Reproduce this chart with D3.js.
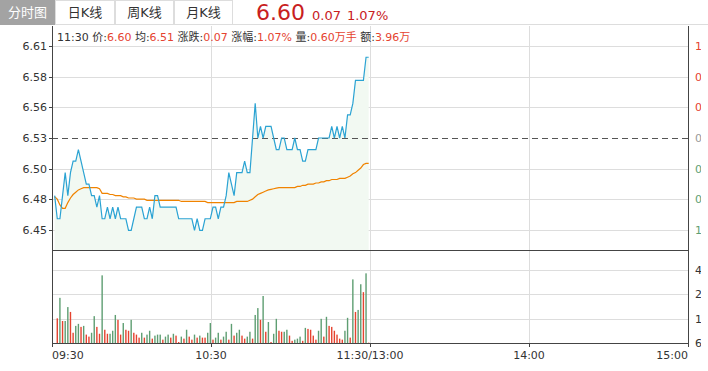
<!DOCTYPE html>
<html>
<head>
<meta charset="utf-8">
<script src="https://cdn.jsdelivr.net/npm/d3@7"></script>
<style>
body { margin: 0; background: #fff; }
svg text { font-family: "DejaVu Sans", "Noto Sans CJK SC", sans-serif; }
</style>
</head>
<body>
<div id="chart"></div>
<script>
// data
const prevClose = 6.53;
const tabs = ['分时图', '日K线', '周K线', '月K线'];
const timeLabels = ['09:30', '10:30', '11:30/13:00', '14:00', '15:00'];
const priceTicks = [6.61, 6.5833, 6.5567, 6.53, 6.5033, 6.4767, 6.45];
const priceTickLabels = ['6.61', '6.58', '6.56', '6.53', '6.50', '6.48', '6.45'];
const pctTickLabels = ['1.23%', '0.82%', '0.41%', '0.00%', '0.41%', '0.82%', '1.23%'];
const volTicks = [4368, 2912, 1456, 0];
const volTickLabels = ['4368', '2912', '1456', '6'];

// minute prices 09:31 .. 11:30
const prices = [
  6.48, 6.46, 6.46, 6.48, 6.50, 6.48, 6.50, 6.51, 6.51, 6.52,
  6.51, 6.50, 6.49, 6.49, 6.48, 6.48, 6.47, 6.48, 6.46, 6.46,
  6.47, 6.46, 6.47, 6.46, 6.47, 6.46, 6.46, 6.46, 6.45, 6.45,
  6.46, 6.47, 6.47, 6.47, 6.46, 6.46, 6.47, 6.46, 6.48, 6.48,
  6.47, 6.47, 6.47, 6.47, 6.47, 6.47, 6.47, 6.46, 6.46, 6.46,
  6.46, 6.46, 6.46, 6.45, 6.46, 6.45, 6.45, 6.46, 6.46, 6.46,
  6.47, 6.47, 6.46, 6.47, 6.47, 6.48, 6.50, 6.49, 6.48, 6.50,
  6.50, 6.50, 6.51, 6.50, 6.50, 6.53, 6.56, 6.53, 6.54, 6.53,
  6.54, 6.54, 6.54, 6.53, 6.52, 6.52, 6.53, 6.53, 6.52, 6.52,
  6.52, 6.53, 6.52, 6.52, 6.51, 6.51, 6.52, 6.52, 6.52, 6.52,
  6.53, 6.53, 6.53, 6.53, 6.53, 6.54, 6.53, 6.54, 6.53, 6.54,
  6.53, 6.55, 6.55, 6.56, 6.58, 6.58, 6.58, 6.58, 6.60, 6.60
];
const avgPrices = [
  6.479, 6.477, 6.472, 6.469, 6.469, 6.474, 6.478, 6.481, 6.483, 6.485,
  6.486, 6.487, 6.487, 6.487, 6.487, 6.487, 6.487, 6.486, 6.482, 6.482,
  6.482, 6.481, 6.481, 6.480, 6.480, 6.480, 6.479, 6.479, 6.478, 6.478,
  6.478, 6.477, 6.477, 6.477, 6.477, 6.476, 6.476, 6.476, 6.476, 6.476,
  6.476, 6.476, 6.476, 6.476, 6.476, 6.476, 6.476, 6.476, 6.475, 6.475,
  6.475, 6.475, 6.475, 6.475, 6.475, 6.475, 6.475, 6.475, 6.474, 6.474,
  6.474, 6.474, 6.474, 6.474, 6.474, 6.474, 6.474, 6.474, 6.474, 6.475,
  6.475, 6.475, 6.475, 6.475, 6.476, 6.477, 6.479, 6.481, 6.482, 6.483,
  6.484, 6.485, 6.4855, 6.486, 6.4865, 6.487, 6.487, 6.487, 6.487, 6.487,
  6.487, 6.487, 6.488, 6.488, 6.489, 6.489, 6.490, 6.490, 6.490, 6.491,
  6.491, 6.492, 6.492, 6.493, 6.493, 6.494, 6.494, 6.494, 6.495, 6.495,
  6.495, 6.496, 6.497, 6.499, 6.500, 6.502, 6.504, 6.507, 6.508, 6.508
];
// minute volumes 09:32 .. 11:30 (hands) and bar colour
const volumes = [
  1470, 2690, 1310, 1310, 2140, 1850, 610, 1020, 1140, 960,
  1020, 500, 380, 610, 1600, 960, 550, 4030, 790, 550,
  550, 730, 1670, 1380, 500, 1190, 790, 730, 1380, 610,
  500, 320, 610, 320, 500, 730, 260, 440, 500, 500,
  200, 380, 500, 320, 550, 440, 60, 380, 260, 790,
  380, 200, 500, 320, 440, 320, 320, 610, 1190, 200,
  320, 610, 200, 380, 670, 200, 1140, 440, 610, 790,
  440, 260, 380, 670, 260, 1670, 2080, 1380, 2800, 670,
  1250, 60, 550, 1440, 730, 670, 670, 790, 440, 130,
  200, 260, 380, 130, 900, 840, 790, 440, 200, 730,
  1440, 380, 1560, 1020, 960, 730, 500, 260, 200, 730,
  1500, 320, 3790, 1850, 1970, 3500, 3030, 4150, 20
];
const volUp = ('rgrggrrggrgrrggrrgrrgggrrgrrgrrrgrggrgggrggrgrrgrgrrgrgrrggrg' +
  'grggrgrggrrggrggrgrgrggrrggrrgggrgrrrrggrg' +
  'rrrrrrggrgrggrgr').split('').map(c => c === 'r');

const W = 708, H = 371;
const left = 52, right = 688;
const priceTop = 26, priceBottom = 250, volBottom = 343;

const svg = d3.select('#chart').append('svg')
  .attr('width', W)
  .attr('height', H);

// tab bar
const tabX = [0, 55, 115, 174, 233];
const tabG = svg.append('g');
tabs.forEach((t, i) => {
  tabG.append('rect')
    .attr('x', tabX[i] + 0.5).attr('y', 0.5)
    .attr('width', tabX[i + 1] - tabX[i] - 1).attr('height', 24)
    .attr('fill', i === 0 ? '#a3a3a3' : '#fff')
    .attr('stroke', i === 0 ? '#a3a3a3' : '#ddd');
  tabG.append('text')
    .attr('x', (tabX[i] + tabX[i + 1]) / 2).attr('y', 17)
    .attr('text-anchor', 'middle')
    .attr('font-size', 13)
    .attr('fill', i === 0 ? '#fff' : '#333')
    .text(t);
});
svg.append('line')
  .attr('x1', 233).attr('x2', W).attr('y1', 24.5).attr('y2', 24.5)
  .attr('stroke', '#ddd');

const last = prices[prices.length - 1];
const head = svg.append('text').attr('y', 20).attr('fill', '#c8201e');
head.append('tspan').attr('x', 256).attr('font-size', 22).text(last.toFixed(2));
head.append('tspan').attr('dx', 7).attr('font-size', 13).text((last - prevClose).toFixed(2));
head.append('tspan').attr('dx', 6).attr('font-size', 13)
  .text(((last - prevClose) / prevClose * 100).toFixed(2) + '%');

// scales
const x = d3.scaleLinear().domain([0, 241]).range([left, right]);
const xTime = d3.scalePoint().domain(timeLabels).range([left, right]);
const y = d3.scaleLinear().domain([6.4329, 6.6271]).range([priceBottom, priceTop]);
const yVol = d3.scaleLinear().domain([0, 5540]).range([volBottom, priceBottom]);

// grid
const grid = svg.append('g').attr('stroke', '#ddd').attr('shape-rendering', 'crispEdges');
grid.selectAll('.hp').data(priceTicks.filter(d => d !== prevClose)).join('line')
  .attr('x1', left).attr('x2', right)
  .attr('y1', d => Math.round(y(d)) + 0.5).attr('y2', d => Math.round(y(d)) + 0.5);
grid.selectAll('.hv').data(volTicks.filter(d => d > 0)).join('line')
  .attr('x1', left).attr('x2', right)
  .attr('y1', d => Math.round(yVol(d)) + 0.5).attr('y2', d => Math.round(yVol(d)) + 0.5);
grid.selectAll('.vt').data(timeLabels.slice(1, -1)).join('line')
  .attr('x1', d => Math.round(xTime(d)) + 0.5).attr('x2', d => Math.round(xTime(d)) + 0.5)
  .attr('y1', priceTop).attr('y2', volBottom);

// area + lines
const idx = (d, i) => x(i + 1);
svg.append('path')
  .datum(prices)
  .attr('fill', '#f2f9f2')
  .attr('d', d3.area().x(idx).y0(priceBottom).y1(d => y(d)));

svg.append('line')
  .attr('x1', left).attr('x2', right)
  .attr('y1', Math.round(y(prevClose)) + 0.5).attr('y2', Math.round(y(prevClose)) + 0.5)
  .attr('stroke', '#555').attr('stroke-dasharray', '6,4');

svg.append('path')
  .datum(avgPrices)
  .attr('fill', 'none').attr('stroke', '#f08300').attr('stroke-width', 1.2)
  .attr('d', d3.line().x(idx).y(d => y(d)));

svg.append('path')
  .datum(prices)
  .attr('fill', 'none').attr('stroke', '#2ba3d3').attr('stroke-width', 1.2)
  .attr('d', d3.line().x(idx).y(d => y(d)));

// volume bars
svg.append('g').selectAll('rect').data(volumes).join('rect')
  .attr('x', (d, i) => x(i + 2) - 0.7)
  .attr('width', 1.4)
  .attr('y', d => yVol(d))
  .attr('height', d => volBottom - yVol(d))
  .attr('fill', (d, i) => volUp[i] ? '#e5432f' : '#5e9e72');

// frame
const frame = svg.append('g').attr('stroke', '#444').attr('shape-rendering', 'crispEdges');
frame.append('line').attr('x1', left + 0.5).attr('x2', left + 0.5).attr('y1', priceTop).attr('y2', volBottom + 4);
frame.append('line').attr('x1', right + 0.5).attr('x2', right + 0.5).attr('y1', priceTop).attr('y2', volBottom + 4);
frame.append('line').attr('x1', left).attr('x2', right).attr('y1', priceBottom + 0.5).attr('y2', priceBottom + 0.5);
frame.append('line').attr('x1', left).attr('x2', right).attr('y1', volBottom + 0.5).attr('y2', volBottom + 0.5);
frame.selectAll('.tk').data(priceTicks).join('line')
  .attr('x1', left - 3).attr('x2', left)
  .attr('y1', d => Math.round(y(d)) + 0.5).attr('y2', d => Math.round(y(d)) + 0.5);
frame.selectAll('.tt').data(timeLabels).join('line')
  .attr('x1', d => Math.round(xTime(d)) + 0.5).attr('x2', d => Math.round(xTime(d)) + 0.5)
  .attr('y1', volBottom).attr('y2', volBottom + 4);

// left price labels
svg.append('g').selectAll('text').data(priceTicks).join('text')
  .attr('x', left - 5).attr('y', d => y(d) + 4)
  .attr('text-anchor', 'end').attr('font-size', 11).attr('fill', '#333')
  .text((d, i) => priceTickLabels[i]);

// right labels, clipped at the container edge
svg.append('clipPath').attr('id', 'rclip')
  .append('rect').attr('x', right).attr('y', 0).attr('width', 13).attr('height', H);
const rl = svg.append('g').attr('clip-path', 'url(#rclip)');
rl.selectAll('.pct').data(priceTicks).join('text')
  .attr('x', right + 7).attr('y', d => y(d) + 4)
  .attr('font-size', 11)
  .attr('fill', d => d > prevClose ? '#e5432f' : d < prevClose ? '#5e9e72' : '#999')
  .text((d, i) => pctTickLabels[i]);
rl.selectAll('.vol').data(volTicks).join('text')
  .attr('x', right + 7).attr('y', d => yVol(d) + 4)
  .attr('font-size', 11).attr('fill', '#333')
  .text((d, i) => volTickLabels[i]);

// time labels
svg.append('g').selectAll('text').data(timeLabels).join('text')
  .attr('x', d => xTime(d)).attr('y', volBottom + 16)
  .attr('text-anchor', (d, i) => i === 0 ? 'start' : i === timeLabels.length - 1 ? 'end' : 'middle')
  .attr('font-size', 11).attr('fill', '#333')
  .text(d => d);

// info line
const info = [
  ['11:30 价:', '6.60'], [' 均:', '6.51'], [' 涨跌:', '0.07'],
  [' 涨幅:', '1.07%'], [' 量:', '0.60万手'], [' 额:', '3.96万']
];
const it = svg.append('text').attr('x', left + 5).attr('y', 41).attr('font-size', 11);
info.forEach(p => {
  it.append('tspan').attr('fill', '#333').text(p[0]);
  it.append('tspan').attr('fill', '#e5432f').text(p[1]);
});
</script>
</body>
</html>
